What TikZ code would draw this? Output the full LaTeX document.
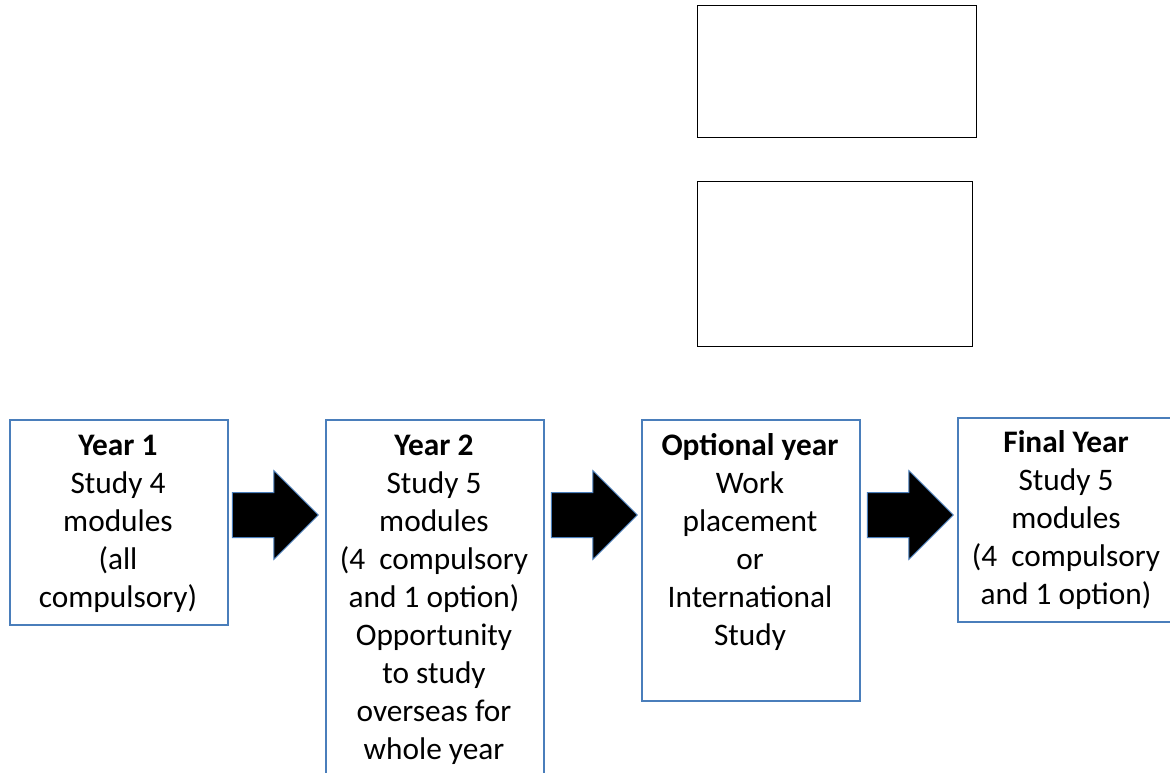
\documentclass[tikz,border=0pt]{standalone}
\usepackage{fontspec}
\setmainfont{Carlito}
\usetikzlibrary{shapes.arrows}
\definecolor{boxblue}{RGB}{74,126,187}

\begin{document}
\begin{tikzpicture}[x=0.75pt,y=-0.75pt,inner sep=0pt,
  yearbox/.style={draw=boxblue,line width=1.7pt,minimum width=163.5pt,anchor=north west},
  yeartext/.style={anchor=north,align=center,font=\fontsize{23.5}{28.5}\selectfont},
  bigarrow/.style={single arrow,draw=boxblue,fill=black,line width=0.75pt,
    inner xsep=0pt,inner ysep=16.5pt,minimum height=64.5pt,minimum width=66pt,
    single arrow head extend=16.5pt},
  emptybox/.style={draw,line width=1.1pt,anchor=north west}]
\useasboundingbox (0,0) rectangle (1170,773);
\clip (0,0) rectangle (1170,773);
% empty boxes at the top
\node[emptybox,minimum width=209.25pt,minimum height=99pt] (e1) at (697,5) {};
\node[emptybox,minimum width=206.25pt,minimum height=123.75pt] (e2) at (697,181) {};
% the four years
\node[yearbox,minimum height=153.75pt] (y1) at (9,419) {};
\node[yearbox,minimum height=280pt] (y2) at (325,419) {};
\node[yearbox,minimum height=210.75pt] (y3) at (641,419) {};
\node[yearbox,minimum height=153pt] (y4) at (957,417) {};
%
\node[yeartext] (t1) at (118,435) {\textbf{Year 1}\\Study 4\\modules\\(all\\compulsory)};
\node[yeartext] (t2) at (434,435) {\textbf{Year 2}\\Study 5\\modules\\(4~ compulsory\\and 1 option)\\Opportunity\\to study\\overseas for\\whole year};
\node[yeartext] (t3) at (750,433) {\textbf{Optional year}\\Work\\placement\\or\\International\\Study};
\node[yeartext] (t4) at (1066,430) {\textbf{Final Year}\\Study 5\\modules\\(4~ compulsory\\and 1 option)};
%% block arrows
\node[bigarrow] (a1) at (264,515) {};
\node[bigarrow] (a2) at (583,515) {};
\node[bigarrow] (a3) at (899,515) {};
\end{tikzpicture}
\end{document}
